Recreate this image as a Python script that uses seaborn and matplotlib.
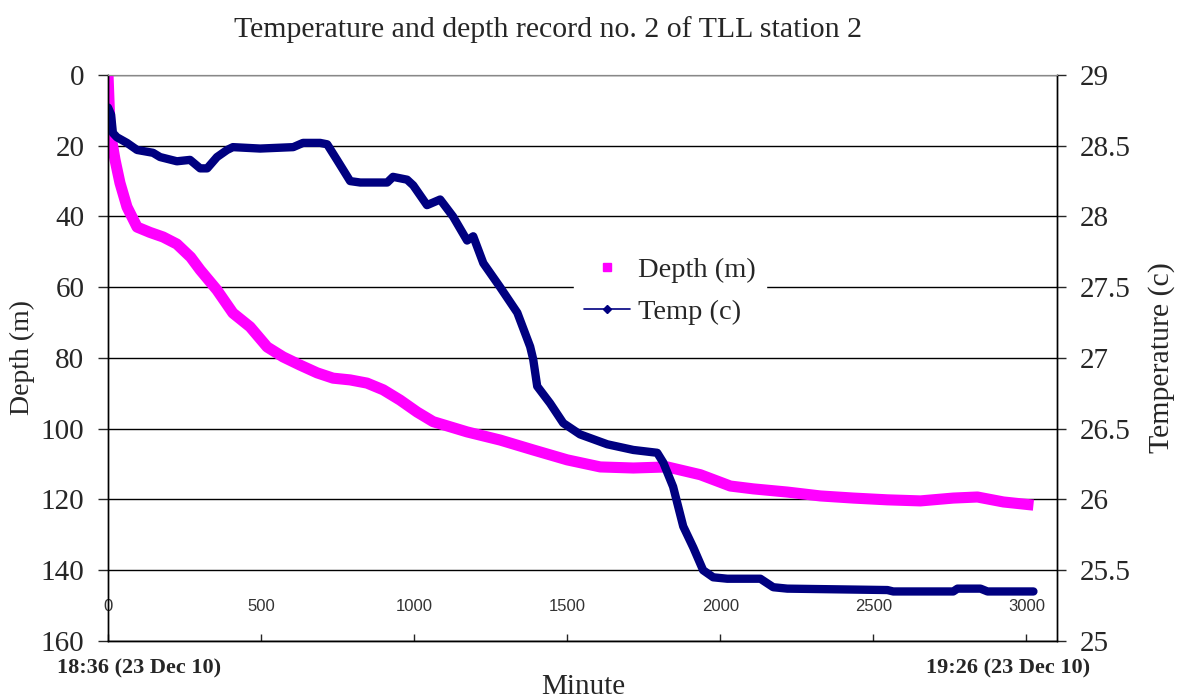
import pandas as pd
import matplotlib
matplotlib.use("Agg")
import matplotlib.pyplot as plt
import seaborn as sns
from matplotlib.lines import Line2D

# Depth record
depth_minute = [0, 7, 23, 39, 62, 95, 137, 180, 225, 270,
                301, 356, 408, 464, 520, 572, 627, 683, 735, 791,
                846, 899, 954, 1010, 1062, 1173, 1281, 1389, 1500, 1608,
                1716, 1827, 1935, 2033, 2108, 2219, 2327, 2435, 2546, 2654,
                2761, 2840, 2925, 3023]
depth_m = [0, 16, 24, 30.5, 37.3, 43, 44.5, 45.8, 47.8, 51.5,
           55.1, 60.8, 67.3, 71.2, 76.9, 79.7, 82, 84.2, 85.7, 86.2,
           87.1, 89, 91.9, 95.3, 98, 100.9, 103.2, 106, 108.8, 110.8,
           111.1, 110.8, 113, 116.2, 117, 117.9, 119, 119.6, 120.1, 120.4,
           119.6, 119.3, 120.7, 121.6]

# Temperature record
temp_minute = [0, 10, 16, 29, 62, 95, 147, 170, 225, 268,
               301, 324, 356, 389, 408, 497, 605, 637, 693, 716,
               748, 791, 824, 846, 912, 931, 977, 997, 1042, 1085,
               1127, 1173, 1193, 1226, 1281, 1337, 1379, 1389, 1402, 1444,
               1487, 1542, 1631, 1716, 1794, 1814, 1846, 1879, 1912, 1944,
               1977, 2023, 2131, 2173, 2219, 2546, 2565, 2761, 2775, 2850,
               2873, 3023]
temp_c = [28.77, 28.72, 28.59, 28.56, 28.52, 28.47, 28.45, 28.42, 28.39, 28.40,
          28.34, 28.34, 28.42, 28.47, 28.49, 28.48, 28.49, 28.52, 28.52, 28.51,
          28.40, 28.25, 28.24, 28.24, 28.24, 28.28, 28.26, 28.22, 28.08, 28.12,
          28.0, 27.83, 27.86, 27.67, 27.5, 27.32, 27.08, 26.99, 26.80, 26.68,
          26.54, 26.46, 26.39, 26.35, 26.33, 26.26, 26.09, 25.81, 25.66, 25.5,
          25.45, 25.44, 25.44, 25.38, 25.37, 25.36, 25.35, 25.35, 25.37, 25.37,
          25.35, 25.35]

depth_ticks = [0, 20, 40, 60, 80, 100, 120, 140, 160]
temp_ticks = [25, 25.5, 26, 26.5, 27, 27.5, 28, 28.5, 29]
temp_labels = ["25", "25.5", "26", "26.5", "27", "27.5", "28", "28.5", "29"]
minute_ticks = [0, 500, 1000, 1500, 2000, 2500, 3000]

sns.set_style("white")
plt.rcParams["font.family"] = ["Liberation Serif", "DejaVu Serif"]

fig = plt.figure(figsize=(11.83, 7.0), dpi=100)
ax = fig.add_axes([0.0913, 0.0843, 0.8022, 0.8086])
ax2 = ax.twinx()

df_depth = pd.DataFrame({"Minute": depth_minute, "Depth": depth_m})
df_temp = pd.DataFrame({"Minute": temp_minute, "Temp": temp_c})

sns.lineplot(data=df_depth, x="Minute", y="Depth", ax=ax, estimator=None,
             color="#FF00FF", linewidth=8, solid_capstyle="butt")
sns.lineplot(data=df_temp, x="Minute", y="Temp", ax=ax2, estimator=None,
             color="#000080", linewidth=6, solid_capstyle="round")

# primary axis (depth, inverted)
ax.set_xlim(0, 3100)
ax.set_ylim(160, 0)
ax.set_yticks(depth_ticks)
ax.set_xticks(minute_ticks)
ax.set_axisbelow(True)
ax.yaxis.grid(True, color="black", linewidth=1)
ax.xaxis.grid(False)
ax.tick_params(axis="y", direction="out", length=7, width=1, labelsize=21,
               pad=10, left=True)
ax.tick_params(axis="x", direction="in", length=5, width=1, labelsize=12,
               labelcolor="#333333", pad=-30, bottom=True)
for lbl in ax.get_xticklabels():
    lbl.set_fontfamily(["Liberation Sans", "DejaVu Sans"])
ax.set_xlabel("")
ax.set_ylabel("Depth (m)", fontsize=20, labelpad=4)

# secondary axis (temperature)
ax2.set_ylim(25, 29)
ax2.set_yticks(temp_ticks)
ax2.set_yticklabels(temp_labels)
ax2.tick_params(axis="y", direction="out", length=6.5, width=1, labelsize=21,
                pad=10, right=True)
ax2.set_ylabel("Temperature (c)", fontsize=21.5, labelpad=12)
ax2.grid(False)

for a in (ax, ax2):
    for side in ("left", "right", "bottom"):
        a.spines[side].set_color("black")
        a.spines[side].set_linewidth(1)
    a.spines["top"].set_color("#888888")

fig.text(548 / 1183, 1 - 30 / 700, "Temperature and depth record no. 2 of TLL station 2",
         ha="center", va="center", fontsize=21.5)
fig.text(583 / 1183, 1 - 687 / 700, "Minute", ha="center", va="center", fontsize=21)
fig.text(57 / 1183, 1 - 668 / 700, "18:36 (23 Dec 10)", ha="left", va="center",
         fontsize=16, fontweight="bold")
fig.text(1090 / 1183, 1 - 668 / 700, "19:26 (23 Dec 10)", ha="right", va="center",
         fontsize=16, fontweight="bold")

handles = [
    Line2D([], [], color="#FF00FF", marker="s", linestyle="none", markersize=5.5),
    Line2D([], [], color="#000080", marker="D", markersize=4, linewidth=1.2),
]
leg = fig.legend(handles, ["Depth (m)", "Temp (c)"], loc="center",
                 bbox_to_anchor=(670 / 1183, 1 - 291 / 700), fontsize=20.5,
                 frameon=True, fancybox=False, framealpha=1, facecolor="white",
                 edgecolor="white", handlelength=1.6, handletextpad=0.3,
                 labelspacing=0.55, borderpad=0.35)

fig.savefig("out.png", dpi=100)
